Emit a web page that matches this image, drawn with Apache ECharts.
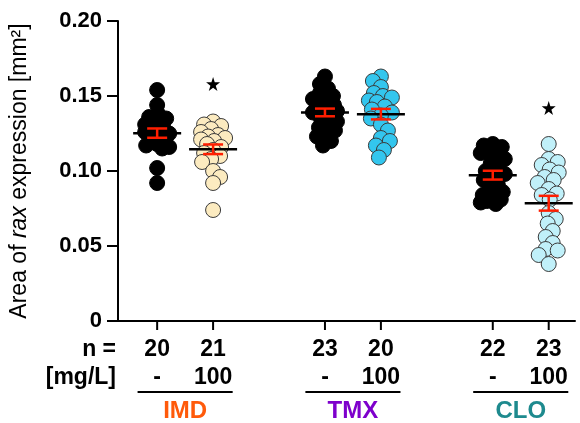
<!DOCTYPE html>
<html>
<head>
<meta charset="utf-8">
<script src="https://cdn.jsdelivr.net/npm/echarts@6/dist/echarts.min.js"></script>
<style>
	html, body { margin: 0; padding: 0; background: #fff; }
	#chart { width: 580px; height: 423px; }
</style>
</head>
<body>
<div id="chart"></div>
<script>
// values
const groups = ['IMD', 'TMX', 'CLO'];
const nCounts = [20, 21, 23, 20, 22, 23];
const concLabels = ['-', '100', '-', '100', '-', '100'];
const yTicks = [0, 0.05, 0.10, 0.15, 0.20];

const imdCtrl = [0.154, 0.144, 0.138, 0.136, 0.135, 0.133, 0.131, 0.129, 0.128, 0.126, 0.125, 0.124, 0.122, 0.120, 0.118, 0.117, 0.116, 0.115, 0.102, 0.092];
const imd100 = [0.133, 0.131, 0.130, 0.128, 0.126, 0.124, 0.123, 0.122, 0.121, 0.120, 0.118, 0.116, 0.114, 0.112, 0.110, 0.108, 0.106, 0.100, 0.096, 0.092, 0.074];
const tmxCtrl = [0.163, 0.158, 0.155, 0.152, 0.150, 0.148, 0.146, 0.144, 0.143, 0.142, 0.141, 0.140, 0.139, 0.137, 0.135, 0.133, 0.131, 0.129, 0.127, 0.125, 0.123, 0.120, 0.117];
const tmx100 = [0.163, 0.160, 0.156, 0.152, 0.150, 0.149, 0.147, 0.146, 0.143, 0.141, 0.139, 0.137, 0.135, 0.131, 0.127, 0.122, 0.120, 0.117, 0.114, 0.109];
const cloCtrl = [0.118, 0.117, 0.116, 0.114, 0.112, 0.110, 0.108, 0.105, 0.102, 0.100, 0.098, 0.096, 0.094, 0.091, 0.088, 0.086, 0.084, 0.082, 0.081, 0.080, 0.079, 0.078];
const clo100 = [0.118, 0.108, 0.106, 0.104, 0.101, 0.099, 0.096, 0.094, 0.092, 0.088, 0.085, 0.084, 0.081, 0.072, 0.068, 0.065, 0.060, 0.056, 0.052, 0.048, 0.047, 0.044, 0.038];
const sigStars = [null, 0.158, null, null, null, 0.142];

const columns = [imdCtrl, imd100, tmxCtrl, tmx100, cloCtrl, clo100];

// styles
const fillColors = ['#000000', '#FCEBC0', '#000000', '#33C6EE', '#000000', '#C0F0F9'];
const groupColors = ['#FF5A0A', '#7E00CC', '#1E8A8E'];
const FONT = '"Liberation Sans", Arial, sans-serif';

// column i -> x position: two columns per group, one empty slot between groups
function colX(i) {
	return Math.floor(i / 2) * 3 + (i % 2);
}

function mean(a) {
	return a.reduce((s, v) => s + v, 0) / a.length;
}

function sem(a) {
	const m = mean(a);
	const v = a.reduce((s, x) => s + (x - m) * (x - m), 0) / (a.length - 1);
	return Math.sqrt(v / a.length);
}

const summary = columns.map((c, i) => [colX(i), mean(c), sem(c)]);
const starData = [];
sigStars.forEach((v, i) => {
	if (v != null) starData.push([colX(i), v]);
});
const labelData = nCounts.map((n, i) => [colX(i), 0]);
const groupData = groups.map((g, i) => [i * 3 + 0.5, 0]);

const starPath = 'path://M50,0 L61.8,36.2 L100,36.2 L69.1,58.6 L80.9,95.1 L50,72.4 L19.1,95.1 L30.9,58.6 L0,36.2 L38.2,36.2 Z';

let myChart = echarts.init(document.getElementById('chart'));

function pointSeries(i, data) {
	return {
		type: 'scatter',
		symbol: 'circle',
		symbolSize: 15,
		z: 2,
		itemStyle: {
			color: fillColors[i],
			borderColor: fillColors[i] === '#000000' ? '#000' : '#3a3a3a',
			borderWidth: 1,
			opacity: 1
		},
		data: data
	};
}

function txt(text, x, y, size, color, align) {
	return {
		type: 'text',
		style: {
			text: text, x: x, y: y,
			align: align || 'center', verticalAlign: 'middle',
			font: 'bold ' + size + 'px ' + FONT, fill: color || '#000'
		}
	};
}

const option = {
	animation: false,
	grid: {
		left: 118,
		right: 5,
		top: 21,
		bottom: 102
	},
	xAxis: {
		type: 'value',
		min: -0.7,
		max: 7.47,
		axisLine: { show: true, lineStyle: { color: '#000', width: 2 } },
		axisTick: { show: false },
		axisLabel: { show: false },
		splitLine: { show: false }
	},
	yAxis: {
		type: 'value',
		min: 0,
		max: 0.2,
		interval: 0.05,
		name: '{a|Area of }{i|rax}{a| expression [mm²]}',
		nameLocation: 'middle',
		nameGap: 87,
		nameRotate: 90,
		nameTextStyle: {
			rich: {
				a: { fontFamily: FONT, fontSize: 23, color: '#000' },
				i: { fontFamily: FONT, fontSize: 23, fontStyle: 'italic', color: '#000' }
			}
		},
		axisLine: { show: true, onZero: false, lineStyle: { color: '#000', width: 2 } },
		axisTick: { show: true, length: 11, lineStyle: { color: '#000', width: 2 } },
		axisLabel: {
			margin: 16,
			fontFamily: FONT,
			fontSize: 22,
			fontWeight: 'bold',
			color: '#000',
			formatter: function(v) {
				return v === 0 ? '0' : v.toFixed(2);
			}
		},
		splitLine: { show: false }
	},
	series: columns.map((c, i) => pointSeries(i, c.map(v => [colX(i), v]))).concat([
		{
			// mean and SEM
			type: 'custom',
			z: 5,
			data: summary,
			renderItem: function(params, api) {
				const x = api.value(0), m = api.value(1), e = api.value(2);
				const pm = api.coord([x, m]);
				const pt = api.coord([x, m + e]);
				const pb = api.coord([x, m - e]);
				return {
					type: 'group',
					children: [{
						type: 'line',
						shape: { x1: pm[0] - 24, y1: pm[1], x2: pm[0] + 24, y2: pm[1] },
						style: { stroke: '#000', lineWidth: 2.5 }
					}, {
						type: 'line',
						shape: { x1: pt[0], y1: pt[1], x2: pb[0], y2: pb[1] },
						style: { stroke: '#FF1E00', lineWidth: 2.5 }
					}, {
						type: 'line',
						shape: { x1: pt[0] - 10, y1: pt[1], x2: pt[0] + 10, y2: pt[1] },
						style: { stroke: '#FF1E00', lineWidth: 2.5 }
					}, {
						type: 'line',
						shape: { x1: pb[0] - 10, y1: pb[1], x2: pb[0] + 10, y2: pb[1] },
						style: { stroke: '#FF1E00', lineWidth: 2.5 }
					}]
				};
			}
		},
		{
			// significance stars
			type: 'scatter',
			symbol: starPath,
			symbolSize: 14,
			z: 3,
			itemStyle: { color: '#000', opacity: 1 },
			data: starData
		},
		{
			// x ticks, n and concentration rows
			type: 'custom',
			clip: false,
			silent: true,
			data: labelData,
			renderItem: function(params, api) {
				const i = params.dataIndex;
				const p = api.coord([api.value(0), 0]);
				const children = [{
					type: 'line',
					shape: { x1: p[0], y1: p[1], x2: p[0], y2: p[1] + 9 },
					style: { stroke: '#000', lineWidth: 2 }
				},
					txt(String(nCounts[i]), p[0], p[1] + 29, 23),
					txt(concLabels[i], p[0], p[1] + 57, 23)
				];
				if (i === 0) {
					const left = api.coord([-0.7, 0]);
					children.push(
						txt('n =', left[0] - 2, p[1] + 29, 23, '#000', 'right'),
						txt('[mg/L]', left[0] - 2, p[1] + 57, 23, '#000', 'right')
					);
				}
				return { type: 'group', children: children };
			}
		},
		{
			// group names with underline
			type: 'custom',
			clip: false,
			silent: true,
			data: groupData,
			renderItem: function(params, api) {
				const i = params.dataIndex;
				const c = api.value(0);
				const pl = api.coord([c - 0.85, 0]);
				const pr = api.coord([c + 0.85, 0]);
				const pc = api.coord([c, 0]);
				return {
					type: 'group',
					children: [{
						type: 'line',
						shape: { x1: pl[0], y1: pl[1] + 71, x2: pr[0], y2: pr[1] + 71 },
						style: { stroke: '#000', lineWidth: 2 }
					},
						txt(groups[i], pc[0], pc[1] + 90, 24, groupColors[i])
					]
				};
			}
		}
	])
};

myChart.setOption(option);

// spread the dots sideways so they do not sit on top of each other
function swarm(vals, cx) {
	const c0 = myChart.convertToPixel({ gridIndex: 0 }, [cx, 0]);
	const c1 = myChart.convertToPixel({ gridIndex: 0 }, [cx + 1, 0]);
	const unit = c1[0] - c0[0];
	const minDist = 9;
	const maxOff = 12;
	const placed = [];
	const out = [];
	vals.forEach((v, idx) => {
		const py = myChart.convertToPixel({ gridIndex: 0 }, [cx, v])[1];
		const sign = idx % 2 ? -1 : 1;
		let dx = null, bestGap = -1, bestDx = 0;
		for (let k = 0; k <= maxOff * 2; k++) {
			const step = Math.ceil(k / 2) * (k % 2 === 0 ? -1 : 1) * sign;
			let gap = Infinity;
			placed.forEach(p => {
				const d = Math.hypot(p[0] - step, p[1] - py);
				if (d < gap) gap = d;
			});
			if (gap >= minDist) { dx = step; break; }
			if (gap > bestGap) { bestGap = gap; bestDx = step; }
		}
		if (dx === null) dx = bestDx;
		placed.push([dx, py]);
		out.push([cx + dx / unit, v]);
	});
	return out;
}

myChart.setOption({
	series: columns.map((c, i) => ({ data: swarm(c, colX(i)) }))
});

window.addEventListener('resize', function() {
	myChart.resize();
});
</script>
</body>
</html>
